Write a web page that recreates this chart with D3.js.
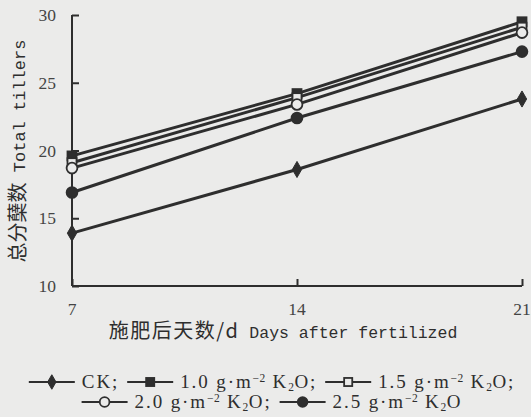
<!DOCTYPE html>
<html>
<head>
<meta charset="utf-8">
<script src="https://cdn.jsdelivr.net/npm/d3@7"></script>
<style>
  html, body { margin: 0; padding: 0; background: #ebebea; }
  svg { display: block; }
</style>
</head>
<body>
<svg id="chart"></svg>
<script>
// data
const days = [7, 14, 21];
const ck    = [13.9, 18.6, 23.8];
const k10   = [19.6, 24.2, 29.5];
const k15   = [19.1, 23.9, 29.1];
const k20   = [18.7, 23.4, 28.7];
const k25   = [16.9, 22.4, 27.3];
const yTicks = [10, 15, 20, 25, 30];
const xTicks = [7, 14, 21];

const series = [
  {name: "CK", values: ck, shape: "diamond", filled: true},
  {name: "1.0", values: k10, shape: "square", filled: true},
  {name: "1.5", values: k15, shape: "square", filled: false},
  {name: "2.0", values: k20, shape: "circle", filled: false},
  {name: "2.5", values: k25, shape: "circle", filled: true}
];

const width = 531, height = 417;
const ink = "#2e2e2e";
const bg = "#ebebea";
const serif = "'Liberation Serif', 'DejaVu Serif', serif";
const mono = "'Liberation Mono', 'DejaVu Sans Mono', monospace";
const cjk = "'Noto Sans CJK SC', sans-serif";

const svg = d3.select("#chart").attr("width", width).attr("height", height);
svg.append("rect").attr("width", width).attr("height", height).attr("fill", bg);

const x = d3.scaleLinear().domain([7, 21]).range([72, 522]);
const y = d3.scaleLinear().domain([10, 30]).range([286, 15]);

// axes with inward ticks
const gx = svg.append("g").attr("transform", `translate(0,${y(10)})`)
  .call(d3.axisTop(x).tickValues(xTicks).tickSize(7).tickFormat(""));
gx.select(".domain").attr("stroke", ink).attr("stroke-width", 2)
  .attr("d", `M${x(7)},0H${x(21)}`);
gx.selectAll(".tick line").attr("stroke", ink).attr("stroke-width", 2);

const gy = svg.append("g").attr("transform", `translate(${x(7)},0)`)
  .call(d3.axisRight(y).tickValues(yTicks).tickSize(7).tickFormat(""));
gy.select(".domain").attr("stroke", ink).attr("stroke-width", 2)
  .attr("d", `M0,${y(30)}V${y(10)}`);
gy.selectAll(".tick line").attr("stroke", ink).attr("stroke-width", 2);

// tick labels
svg.append("g").selectAll("text").data(yTicks).join("text")
  .attr("x", 56).attr("y", d => y(d) + 6)
  .attr("text-anchor", "end")
  .attr("font-family", serif).attr("font-size", 17.5).attr("fill", "#444")
  .text(d => d);
svg.append("g").selectAll("text").data(xTicks).join("text")
  .attr("x", d => x(d)).attr("y", 315)
  .attr("text-anchor", "middle")
  .attr("font-family", serif).attr("font-size", 17.5).attr("fill", "#444")
  .text(d => d);

// axis titles
const yt = svg.append("text")
  .attr("transform", `translate(25,151) rotate(-90)`)
  .attr("text-anchor", "middle").attr("fill", ink);
yt.append("tspan").attr("font-family", cjk).attr("font-size", 20).text("总分蘖数");
yt.append("tspan").attr("font-family", mono).attr("font-size", 17).text("  Total tillers");

const xt = svg.append("text")
  .attr("x", 283).attr("y", 338)
  .attr("text-anchor", "middle").attr("fill", ink);
xt.append("tspan").attr("font-family", cjk).attr("font-size", 20).attr("letter-spacing", 1.5).text("施肥后天数/d");
xt.append("tspan").attr("font-family", mono).attr("font-size", 16.5).text("  Days after fertilized");

// marker helper
function marker(g, s, cx, cy, scale) {
  const k = scale || 1;
  if (s.shape === "diamond") {
    g.append("path")
      .attr("d", d3.symbol(d3.symbolDiamond, 75 * k * k)())
      .attr("transform", `translate(${cx},${cy})`)
      .attr("fill", ink).attr("stroke", ink).attr("stroke-width", 1);
  } else if (s.shape === "square") {
    const h = 4.5 * k;
    g.append("rect")
      .attr("x", cx - h).attr("y", cy - h).attr("width", 2 * h).attr("height", 2 * h)
      .attr("fill", s.filled ? ink : bg).attr("stroke", ink).attr("stroke-width", 1.8);
  } else {
    g.append("circle")
      .attr("cx", cx).attr("cy", cy).attr("r", 5.4 * k)
      .attr("fill", s.filled ? ink : bg).attr("stroke", ink).attr("stroke-width", 1.8);
  }
}

// lines
const line = d3.line().x((d, i) => x(days[i])).y(d => y(d));
const lineG = svg.append("g");
series.forEach(s => {
  lineG.append("path").datum(s.values)
    .attr("fill", "none").attr("stroke", ink).attr("stroke-width", 3)
    .attr("d", line);
});
// markers: filled ones first, open ones on top
const markG = svg.append("g");
[0, 4, 1, 2, 3].forEach(j => {
  const s = series[j];
  s.values.forEach((v, i) => marker(markG, s, x(days[i]), y(v)));
});

// legend
const unit = d => [[d + " g·m"], ["−2", "sup"], [" K"], ["2", "sub"], ["O"]];
const legendRows = [
  [{s: series[0], label: [["CK;"]]},
   {s: series[1], label: unit("1.0").concat([[";"]])},
   {s: series[2], label: unit("1.5").concat([[";"]])}],
  [{s: series[3], label: unit("2.0").concat([[";"]])},
   {s: series[4], label: unit("2.5")}]
];
const rowY = [382, 402];
const rowCenter = [272, 272];
const shiftOf = {sup: -6, sub: 3};
legendRows.forEach((row, r) => {
  const g = svg.append("g");
  let cx = 0;
  row.forEach((item, k) => {
    if (k > 0) cx += 8;
    const segW = 46;
    const cy = rowY[r];
    g.append("line").attr("x1", cx).attr("x2", cx + segW).attr("y1", cy).attr("y2", cy)
      .attr("stroke", ink).attr("stroke-width", 1.8);
    marker(g, item.s, cx + segW / 2, cy, 0.9);
    cx += segW + 7;
    const t = g.append("text").attr("x", cx).attr("y", cy + 6)
      .attr("font-family", serif).attr("font-size", 19).attr("letter-spacing", 1.9)
      .attr("fill", ink);
    let cur = 0;
    item.label.forEach(([txt, kind]) => {
      const target = shiftOf[kind] || 0;
      const ts = t.append("tspan").text(txt).attr("dy", target - cur);
      if (kind) ts.attr("font-size", 11.5).attr("letter-spacing", 0.5);
      cur = target;
    });
    cx += t.node().getComputedTextLength();
  });
  g.attr("transform", `translate(${rowCenter[r] - cx / 2},0)`);
});
</script>
</body>
</html>
